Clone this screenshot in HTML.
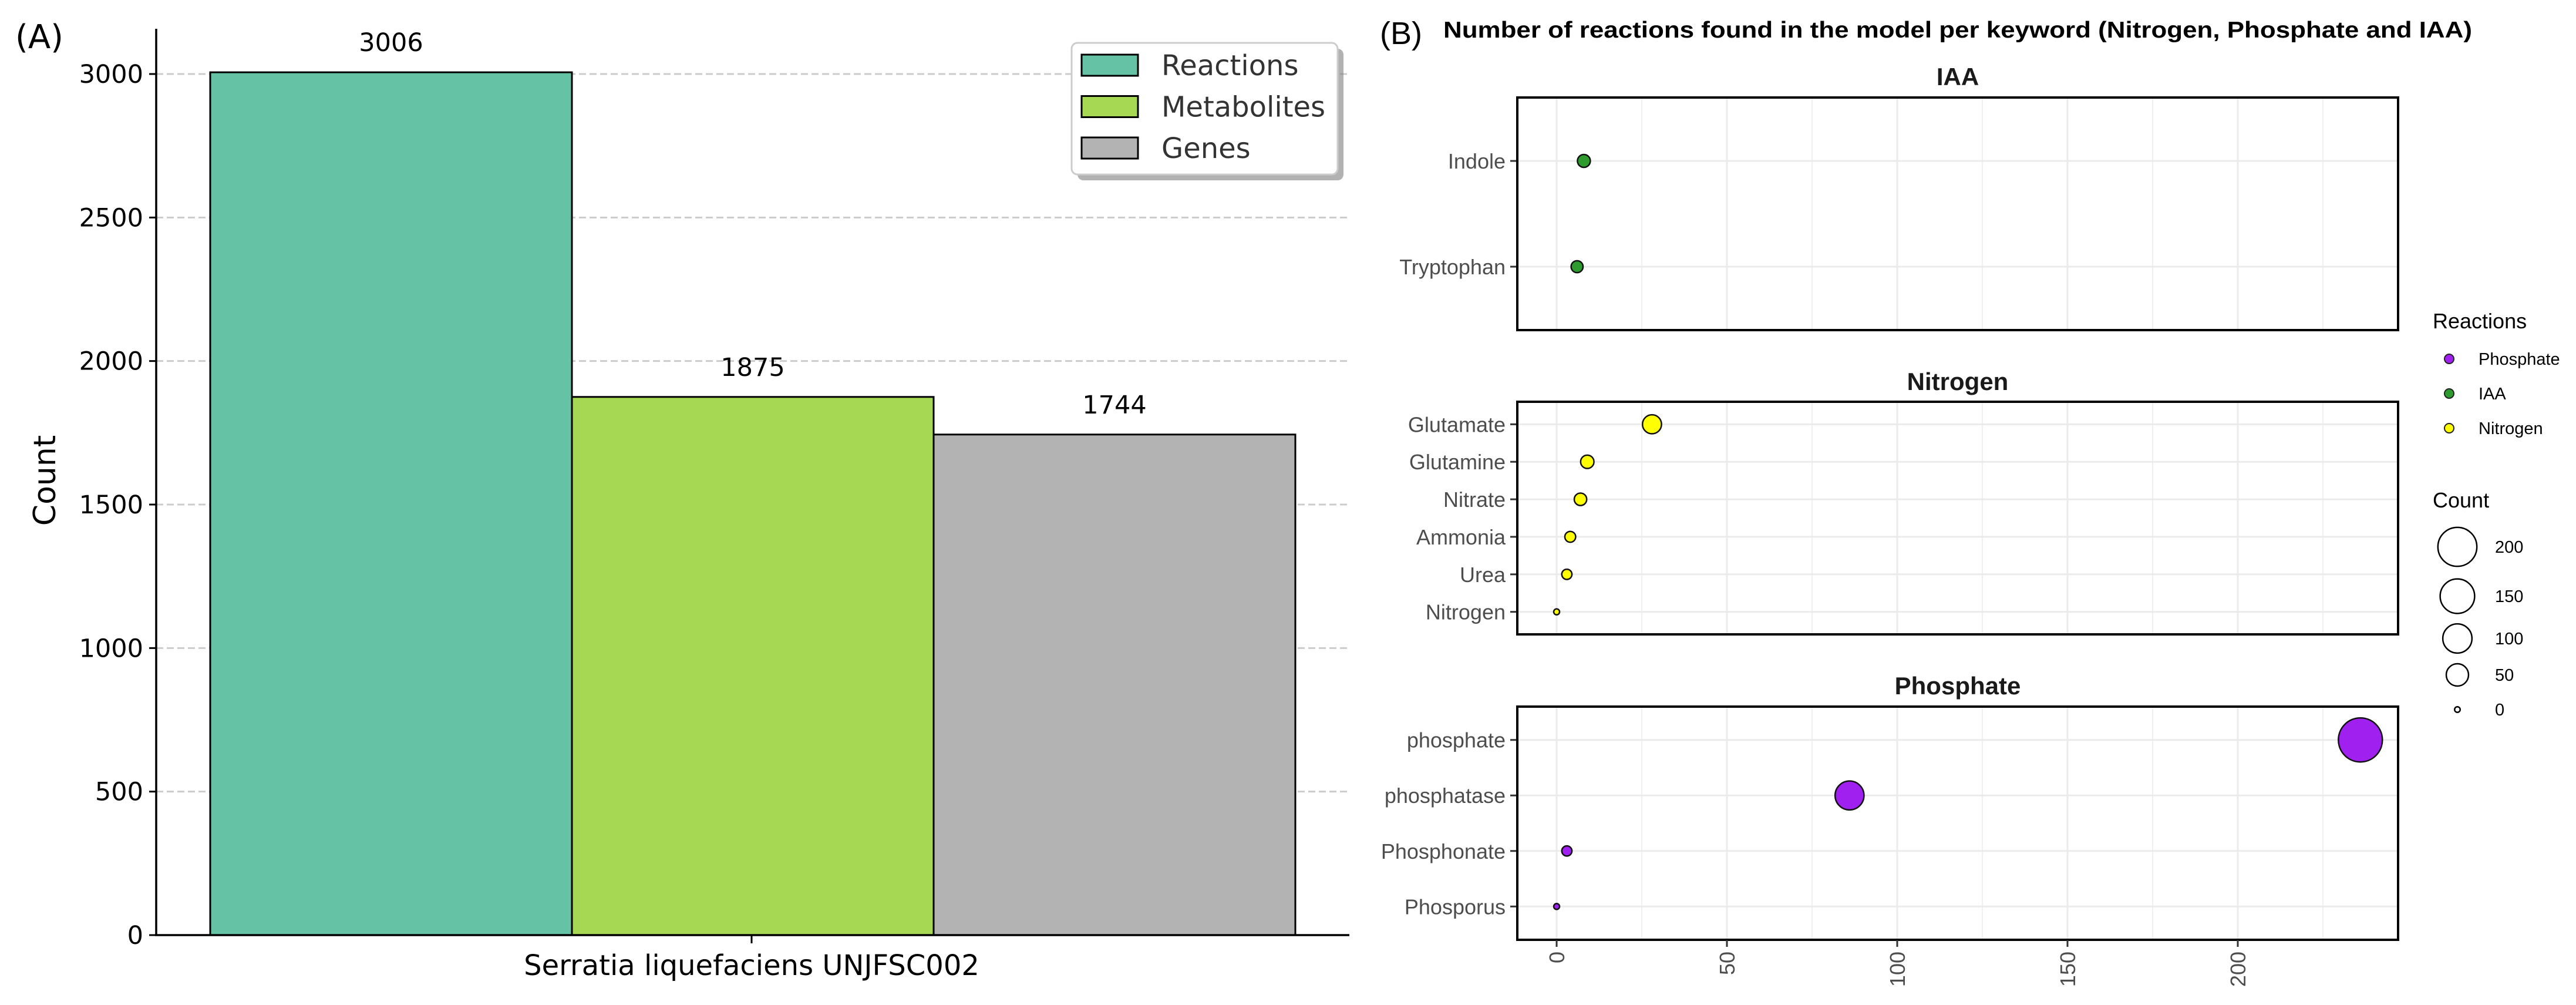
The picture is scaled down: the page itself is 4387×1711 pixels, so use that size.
<!DOCTYPE html>
<html><head><meta charset="utf-8"><style>
html,body{margin:0;padding:0;background:#fff}
svg{display:block}
</style></head><body>
<svg id="fig" xmlns="http://www.w3.org/2000/svg" width="4387" height="1711" viewBox="0 0 4387 1711">
<rect width="4387" height="1711" fill="#fff"/>
<g id="panelA"></g>
<g id="panelB"></g>
</svg>
<script>
// ---- Panel A data ----
const barCategories = ["Reactions", "Metabolites", "Genes"];
const barValues = [3006, 1875, 1744];
const barColors = ["#66c2a5", "#a6d854", "#b3b3b3"];
const yTicksA = [0, 500, 1000, 1500, 2000, 2500, 3000];

// ---- Panel B data ----
const iaaLabels = ["Indole", "Tryptophan"];
const iaaValues = [8, 6];
const nitrogenLabels = ["Glutamate", "Glutamine", "Nitrate", "Ammonia", "Urea", "Nitrogen"];
const nitrogenValues = [28, 9, 7, 4, 3, 0];
const phosphateLabels = ["phosphate", "phosphatase", "Phosphonate", "Phosporus"];
const phosphateValues = [236, 86, 3, 0];
const xTicksB = [0, 50, 100, 150, 200];
const sizeLegendValues = [200, 150, 100, 50, 0];

const NS = "http://www.w3.org/2000/svg";
function mk(parent, tag, attrs, text) {
  const e = document.createElementNS(NS, tag);
  for (const k in attrs) e.setAttribute(k, attrs[k]);
  if (text !== undefined) e.textContent = text;
  parent.appendChild(e);
  return e;
}
const FA = "'DejaVu Sans', sans-serif";
const FB = "'Liberation Sans', Arial, sans-serif";

// ================= Panel A =================
const A = document.getElementById("panelA");
const axL = 266, axR = 2298, y0 = 1592, y3000 = 126;
const yA = v => y0 - (v / 3000) * (y0 - y3000);
const barLeft = 358, barW = 616;
const xA = i => barLeft + i * barW;

yTicksA.forEach(t => {
  if (t > 0) {
    const g = mk(A, "line", {x1: axL, x2: axR, y1: yA(t), y2: yA(t), stroke: "#cccccc", "stroke-width": 3, "stroke-dasharray": "12,6"});
    
    
  }
  const tk = mk(A, "line", {x1: axL - 12, x2: axL, y1: yA(t), y2: yA(t), stroke: "#000", "stroke-width": 3});
  
  
  const tl = mk(A, "text", {x: axL - 22, y: yA(t) + 15, "text-anchor": "end", "font-family": FA, "font-size": 43, fill: "#000"}, String(t));
  
  
});

barValues.forEach((v, i) => {
  const r = mk(A, "rect", {x: xA(i), y: yA(v), width: barW, height: y0 - yA(v), fill: barColors[i], stroke: "#000", "stroke-width": 3});
  
  
  const t = mk(A, "text", {x: xA(i) + barW / 2, y: yA(v) - 36, "text-anchor": "middle", "font-family": FA, "font-size": 43}, String(v));
  
  
});

mk(A, "line", {x1: axL, x2: axL, y1: 49, y2: y0 + 1, stroke: "#000", "stroke-width": 3.5,  });
mk(A, "line", {x1: axL - 2, x2: axR, y1: y0, y2: y0, stroke: "#000", "stroke-width": 3.5,  });
mk(A, "line", {x1: 1280, x2: 1280, y1: y0, y2: y0 + 14, stroke: "#000", "stroke-width": 3,  });
mk(A, "text", {x: 1280, y: 1660, "text-anchor": "middle", "font-family": FA, "font-size": 48,  }, "Serratia liquefaciens UNJFSC002");
mk(A, "text", {x: 0, y: 0, transform: "translate(94,818) rotate(-90)", "text-anchor": "middle", "font-family": FA, "font-size": 52,  }, "Count");
mk(A, "text", {x: 26, y: 82, "font-family": FA, "font-size": 56,  }, "(A)");

// legend A
const LA = mk(A, "g", { });
mk(LA, "rect", {x: 1835, y: 83, width: 453, height: 224, rx: 10, fill: "#7f7f7f", opacity: 0.6});
mk(LA, "rect", {x: 1825, y: 73, width: 453, height: 224, rx: 10, fill: "#fff", stroke: "#cccccc", "stroke-width": 3});
barCategories.forEach((c, i) => {
  const cy = 111 + i * 70.5;
  const p = mk(LA, "rect", {x: 1842, y: cy - 18, width: 96, height: 36, fill: barColors[i], stroke: "#000", "stroke-width": 3});
  
  
  const t = mk(LA, "text", {x: 1978, y: cy + 17, "font-family": FA, "font-size": 48, fill: "#333"}, c);
  
  
});

// ================= Panel B =================
const B = document.getElementById("panelB");
const bxL = 2584, bxR = 4084;
const x0B = 2651, perUnit = 5.8;
const xB = v => x0B + v * perUnit;
const rB = v => 5 + 32.5 * Math.sqrt(v / 236);

mk(B, "text", {x: 2350, y: 75, "font-family": FB, "font-size": 54, fill: "#000",  }, "(B)");
mk(B, "text", {x: 2458, y: 64, "font-family": FB, "font-size": 39, "font-weight": "bold", textLength: 1752, lengthAdjust: "spacingAndGlyphs",  }, "Number of reactions found in the model per keyword (Nitrogen, Phosphate and IAA)");

const facets = [
  {name: "IAA", labels: iaaLabels, values: iaaValues, color: "#2e9b2e", top: 166, bot: 562, titleY: 145, rows: [273, 455]},
  {name: "Nitrogen", labels: nitrogenLabels, values: nitrogenValues, color: "#ffff00", top: 684, bot: 1080, titleY: 664, rows: null},
  {name: "Phosphate", labels: phosphateLabels, values: phosphateValues, color: "#a020f0", top: 1203, bot: 1600, titleY: 1182, rows: null}
];

facets.forEach((f, fi) => {
  const g = mk(B, "g", {});
  
  
  const n = f.labels.length;
  // discrete y: categories spaced evenly with 0.6 expansion
  const h = f.bot - f.top;
  const step = h / (n - 1 + 1.2);
  const yPos = i => f.top + step * 0.6 + i * step;
  // grid
  for (let v = 0; v <= 225; v += 25) {
    const gl = mk(g, "line", {x1: xB(v), x2: xB(v), y1: f.top, y2: f.bot, stroke: "#ebebeb", "stroke-width": v % 50 === 0 ? 3 : 1.5});
    
    
  }
  f.labels.forEach((lab, i) => {
    const y = yPos(i);
    mk(g, "line", {x1: bxL, x2: bxR, y1: y, y2: y, stroke: "#ebebeb", "stroke-width": 3});
    const tk = mk(g, "line", {x1: bxL - 12, x2: bxL, y1: y, y2: y, stroke: "#333", "stroke-width": 3});
    
    
    const t = mk(g, "text", {x: bxL - 20, y: y + 13, "text-anchor": "end", "font-family": FB, "font-size": 36, fill: "#4d4d4d"}, lab);
    
    
  });
  f.values.forEach((v, i) => {
    const c = mk(g, "circle", {cx: xB(v), cy: yPos(i), r: rB(v), fill: f.color, stroke: "#111", "stroke-width": 2.5});
    
    
  });
  mk(g, "rect", {x: bxL, y: f.top, width: bxR - bxL, height: h, fill: "none", stroke: "#000", "stroke-width": 4});
  const tt = mk(g, "text", {x: (bxL + bxR) / 2, y: f.titleY, "text-anchor": "middle", "font-family": FB, "font-size": 42, "font-weight": "bold", fill: "#1a1a1a"}, f.name);
  
  
});

xTicksB.forEach(v => {
  const tk = mk(B, "line", {x1: xB(v), x2: xB(v), y1: 1600, y2: 1612, stroke: "#333", "stroke-width": 3});
  
  
  const t = mk(B, "text", {x: 0, y: 0, transform: `translate(${xB(v) + 13},1620) rotate(-90)`, "text-anchor": "end", "font-family": FB, "font-size": 36, fill: "#4d4d4d"}, String(v));
  
  
});

// legend B
const LB = mk(B, "g", { });
mk(LB, "text", {x: 4143, y: 559, "font-family": FB, "font-size": 36, fill: "#000"}, "Reactions");
const legendCats = ["Phosphate", "IAA", "Nitrogen"];
const legendCols = ["#a020f0", "#2e9b2e", "#ffff00"];
legendCats.forEach((c, i) => {
  const y = 611 + i * 59;
  const d = mk(LB, "circle", {cx: 4171, cy: y, r: 8, fill: legendCols[i], stroke: "#222", "stroke-width": 2});
  
  
  const t = mk(LB, "text", {x: 4221, y: y + 10, "font-family": FB, "font-size": 29, fill: "#000"}, c);
  
  
});
mk(LB, "text", {x: 4143, y: 864, "font-family": FB, "font-size": 36, fill: "#000"}, "Count");
const sizeY = [931, 1015, 1087, 1149, 1208];
sizeLegendValues.forEach((v, i) => {
  const c = mk(LB, "circle", {cx: 4185, cy: sizeY[i], r: rB(v) * 0.95, fill: "none", stroke: "#000", "stroke-width": 2.5});
  
  
  const t = mk(LB, "text", {x: 4249, y: sizeY[i] + 10, "font-family": FB, "font-size": 29, fill: "#000"}, String(v));
  
  
});
</script>
</body></html>
